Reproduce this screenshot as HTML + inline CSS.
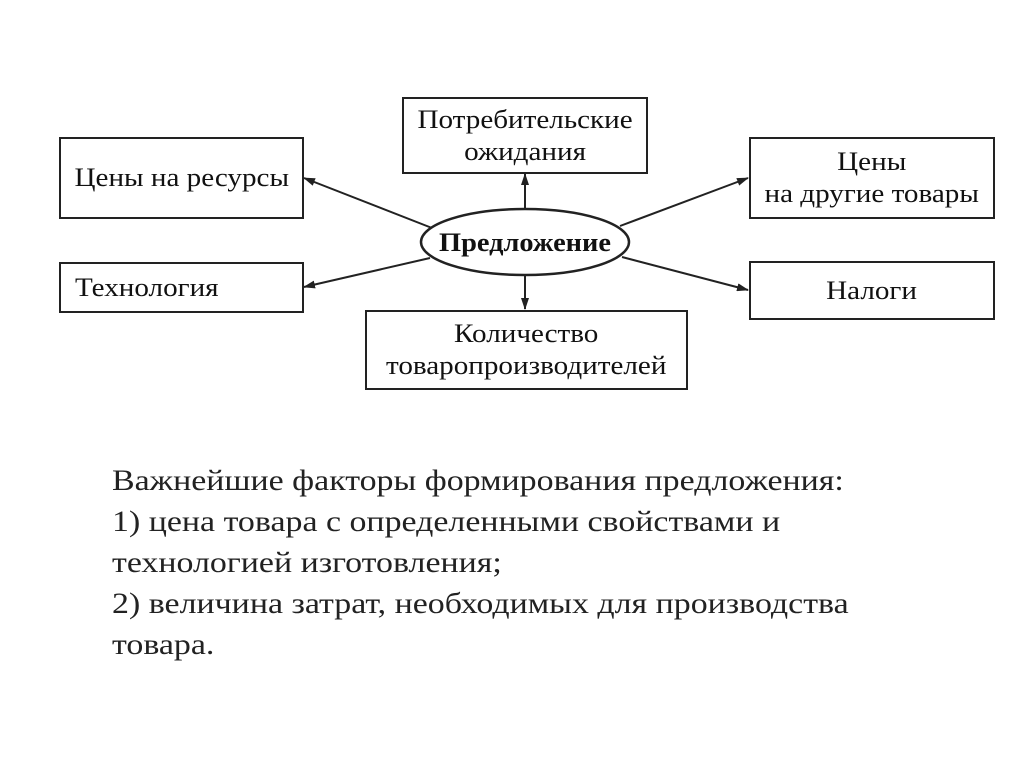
<!DOCTYPE html>
<html><head><meta charset="utf-8"><style>
body{margin:0;background:#fff;width:1024px;height:767px;overflow:hidden;position:relative;font-family:"Liberation Serif",serif;color:#111}
.b{position:absolute;border:2px solid #222;box-sizing:border-box;display:flex;align-items:center;justify-content:center;text-align:center;font-size:26px;line-height:32px;font-family:"Liberation Serif",serif}
.b span{display:inline-block;transform:scaleX(1.12)}
.t{position:absolute;left:112px;top:460px;font-size:30px;line-height:41px;color:#222;transform:scaleX(1.13);transform-origin:0 0;white-space:nowrap}
</style></head><body>
<svg width="1024" height="767" style="position:absolute;left:0;top:0">
<defs><marker id="a" markerWidth="12" markerHeight="8" refX="11" refY="4" orient="auto" markerUnits="userSpaceOnUse"><path d="M0,0 L12,4 L0,8 z" fill="#222"/></marker></defs>
<g stroke="#222" stroke-width="2" fill="none" marker-end="url(#a)">
<line x1="432" y1="228" x2="304" y2="178"/>
<line x1="525" y1="209" x2="525" y2="174"/>
<line x1="620" y1="226" x2="748" y2="178"/>
<line x1="430" y1="258" x2="304" y2="287"/>
<line x1="622" y1="257" x2="748" y2="290"/>
<line x1="525" y1="275" x2="525" y2="309"/>
</g>
<ellipse cx="525" cy="242" rx="104" ry="33" fill="#fff" stroke="#222" stroke-width="2.5"/>
<text x="439" y="251" textLength="172" lengthAdjust="spacingAndGlyphs" font-family="Liberation Serif" font-weight="bold" font-size="26" fill="#111">Предложение</text>
</svg>
<div class="b" style="left:59px;top:137px;width:245px;height:82px"><span>Цены на ресурсы</span></div>
<div class="b" style="left:402px;top:97px;width:246px;height:77px"><span>Потребительские<br>ожидания</span></div>
<div class="b" style="left:749px;top:137px;width:246px;height:82px"><span>Цены<br>на другие товары</span></div>
<div class="b" style="left:59px;top:262px;width:245px;height:51px;justify-content:flex-start;padding-left:14px"><span style="transform-origin:0 50%">Технология</span></div>
<div class="b" style="left:749px;top:261px;width:246px;height:59px"><span>Налоги</span></div>
<div class="b" style="left:365px;top:310px;width:323px;height:80px"><span>Количество<br>товаропроизводителей</span></div>
<div class="t">Важнейшие факторы формирования предложения:<br>1) цена товара с определенными свойствами и<br>технологией изготовления;<br>2) величина затрат, необходимых для производства<br>товара.</div>
</body></html>
